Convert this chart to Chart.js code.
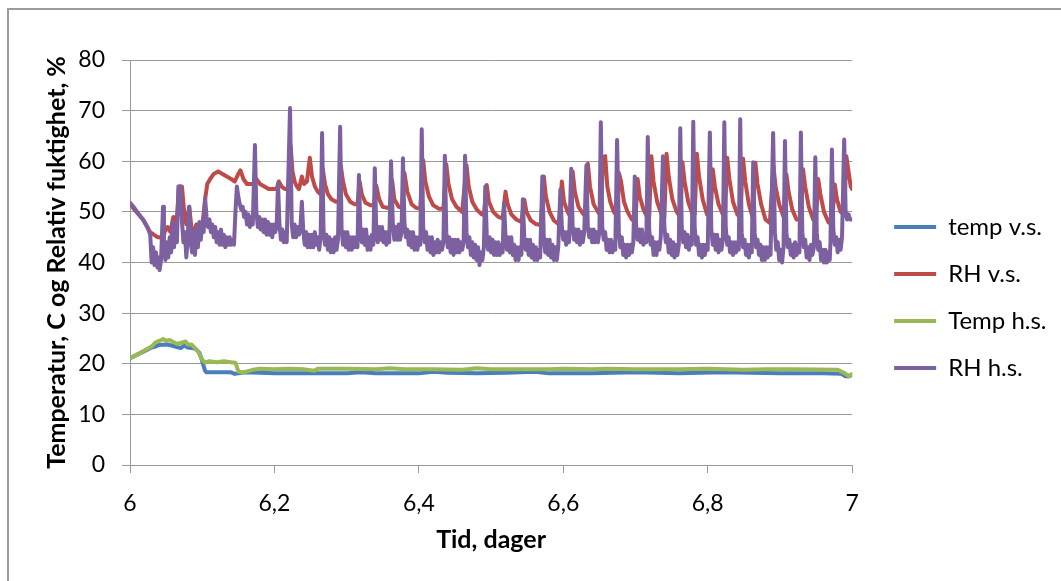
<!DOCTYPE html>
<html>
<head>
<meta charset="utf-8">
<script src="https://cdn.jsdelivr.net/npm/chart.js@4.4.1/dist/chart.umd.min.js"></script>
<style>
  html, body { margin: 0; padding: 0; background: #fff; }
  #wrap { position: relative; width: 1061px; height: 581px; overflow: hidden; }
  #frame { position: absolute; left: 7px; top: 8px; width: 1100px; height: 600px;
           border-left: 2px solid #9c9c9c; border-top: 2px solid #9c9c9c; pointer-events: none; }
  canvas { position: absolute; left: 0; top: 0; }
</style>
</head>
<body>
<div id="wrap">
  <canvas id="myChart" width="1061" height="581"></canvas>
  <div id="frame"></div>
</div>
<script>
// tick labels
const xTicks = [6, 6.2, 6.4, 6.6, 6.8, 7];
const yTicks = [0, 10, 20, 30, 40, 50, 60, 70, 80];

const seriesNames = ['temp v.s.', 'RH v.s.', 'Temp h.s.', 'RH h.s.'];

// [tid (dager), verdi]
const tempVs = [
  [6.000, 21.1], [6.010, 21.8], [6.020, 22.5], [6.030, 23.2], [6.035, 23.4], [6.040, 23.7],
  [6.050, 23.8], [6.055, 23.7], [6.060, 23.5], [6.070, 23.1], [6.075, 23.6], [6.080, 23.2],
  [6.090, 23.0], [6.096, 22.2], [6.100, 20.5], [6.104, 18.6], [6.106, 18.3], [6.140, 18.3],
  [6.145, 18.0], [6.150, 18.1], [6.160, 18.3], [6.180, 18.2], [6.200, 18.1], [6.300, 18.1],
  [6.320, 18.3], [6.340, 18.1], [6.400, 18.1], [6.420, 18.4], [6.440, 18.2], [6.480, 18.1],
  [6.520, 18.2], [6.560, 18.4], [6.580, 18.1], [6.640, 18.1], [6.700, 18.3], [6.760, 18.1],
  [6.820, 18.3], [6.900, 18.1], [6.960, 18.1], [6.985, 18.0], [6.990, 17.6], [6.995, 17.5],
  [7.000, 17.8]
];

const tempHs = [
  [6.000, 21.1], [6.010, 21.8], [6.020, 22.6], [6.030, 23.4], [6.035, 24.2], [6.042, 24.6],
  [6.046, 24.9], [6.050, 24.5], [6.055, 24.7], [6.060, 24.3], [6.066, 23.9], [6.070, 24.1],
  [6.077, 24.4], [6.080, 23.8], [6.085, 23.8], [6.090, 23.1], [6.095, 22.2], [6.100, 20.8],
  [6.104, 20.2], [6.110, 20.5], [6.120, 20.3], [6.130, 20.5], [6.140, 20.3], [6.146, 20.2],
  [6.150, 18.5], [6.155, 18.3], [6.160, 18.4], [6.170, 18.8], [6.180, 19.0], [6.200, 18.9],
  [6.220, 19.0], [6.240, 18.9], [6.255, 18.6], [6.260, 19.0], [6.300, 19.0], [6.340, 18.9],
  [6.360, 19.1], [6.380, 18.9], [6.420, 18.9], [6.460, 18.8], [6.480, 19.1], [6.500, 18.9],
  [6.540, 18.9], [6.580, 18.9], [6.600, 19.0], [6.640, 18.9], [6.660, 19.0], [6.700, 18.9],
  [6.760, 18.9], [6.800, 19.0], [6.850, 18.8], [6.880, 18.9], [6.920, 18.9], [6.980, 18.8],
  [6.990, 18.1], [6.995, 17.6], [7.000, 18.0]
];

const rhVs = [
  [6.000, 51.5], [6.006, 50.5], [6.012, 49.5], [6.018, 48.5], [6.024, 47], [6.028, 46],
  [6.033, 45.5], [6.038, 45], [6.042, 45], [6.045, 44.5], [6.048, 46], [6.052, 47],
  [6.056, 46], [6.060, 49], [6.064, 47], [6.068, 55], [6.072, 55], [6.075, 50],
  [6.078, 47.5], [6.082, 51], [6.085, 47], [6.088, 46], [6.092, 47.5], [6.096, 46.5],
  [6.100, 47], [6.104, 52.5], [6.107, 55.5], [6.111, 56.5], [6.116, 57.5], [6.122, 58],
  [6.128, 57.5], [6.134, 57], [6.140, 56.5], [6.145, 56], [6.150, 57.5], [6.153, 58.2],
  [6.157, 56.5], [6.162, 55.5], [6.168, 55.5], [6.173, 55.5], [6.175, 56.5], [6.180, 55.5],
  [6.186, 55], [6.192, 54.5], [6.198, 54.5], [6.203, 54.5], [6.206, 56], [6.210, 55],
  [6.215, 54.5], [6.219, 54.5], [6.2225, 63], [6.225, 58], [6.228, 56], [6.231, 55],
  [6.234, 54.5], [6.238, 57], [6.241, 55.5], [6.245, 56], [6.249, 60.7], [6.252, 57],
  [6.256, 55], [6.260, 54], [6.264, 53.5], [6.267, 58.5], [6.270, 55.5], [6.274, 53.5],
  [6.279, 52.5], [6.285, 52], [6.289, 52], [6.292, 59], [6.295, 56], [6.299, 53.5],
  [6.305, 52], [6.311, 51.5], [6.315, 51.5], [6.318, 56], [6.321, 53.5], [6.326, 51.8],
  [6.333, 51.3], [6.338, 51.3], [6.341, 55.2], [6.345, 52.5], [6.350, 51], [6.356, 50.8],
  [6.360, 51], [6.363, 56.2], [6.366, 52.5], [6.372, 51], [6.377, 50.8], [6.380, 57.7],
  [6.384, 54], [6.390, 51.5], [6.396, 50.8], [6.402, 50.6], [6.406, 60.2], [6.409, 56],
  [6.414, 53], [6.420, 51.3], [6.428, 50.6], [6.434, 50.6], [6.438, 59.4], [6.441, 55.5],
  [6.446, 52.5], [6.452, 51], [6.460, 50], [6.466, 59.2], [6.469, 55], [6.474, 52],
  [6.480, 50.5], [6.487, 49.5], [6.490, 49.4], [6.494, 55.3], [6.497, 52], [6.503, 50],
  [6.510, 49], [6.516, 48.7], [6.520, 54], [6.523, 51.5], [6.528, 49.5], [6.535, 48.5],
  [6.542, 48], [6.546, 52.4], [6.549, 50], [6.555, 48.3], [6.562, 47.6], [6.569, 47.4],
  [6.573, 57], [6.576, 53], [6.581, 50], [6.587, 48.3], [6.594, 47.5], [6.598, 56],
  [6.601, 52], [6.606, 50], [6.610, 49], [6.613, 58], [6.616, 54], [6.621, 51],
  [6.628, 49.5], [6.632, 49.3], [6.634, 59.5], [6.637, 55], [6.642, 51.5], [6.648, 50],
  [6.652, 49.3], [6.655, 60.8], [6.658, 61], [6.661, 55], [6.665, 52], [6.670, 50],
  [6.675, 49], [6.677, 57.7], [6.680, 56], [6.684, 52], [6.689, 50], [6.695, 48.5],
  [6.700, 48.3], [6.703, 56.5], [6.706, 53], [6.711, 50.5], [6.716, 49], [6.719, 49],
  [6.722, 61], [6.725, 56], [6.730, 52], [6.736, 49.5], [6.740, 49], [6.743, 61.5],
  [6.746, 57], [6.751, 52.5], [6.757, 50], [6.762, 49], [6.765, 59.8], [6.768, 56],
  [6.773, 52], [6.779, 49.5], [6.782, 49.5], [6.785, 61.5], [6.788, 57], [6.793, 52.5],
  [6.799, 49.5], [6.804, 49], [6.807, 58.4], [6.810, 55], [6.815, 51.5], [6.821, 49.5],
  [6.824, 49.5], [6.827, 60.7], [6.830, 56.5], [6.835, 52], [6.841, 49.5], [6.845, 49],
  [6.849, 60.5], [6.852, 56], [6.857, 51.5], [6.862, 49], [6.866, 59.7], [6.869, 55.5],
  [6.874, 51.5], [6.880, 48.5], [6.886, 47.8], [6.891, 59], [6.894, 55], [6.899, 51.5],
  [6.905, 49], [6.909, 57.4], [6.912, 54], [6.917, 50.5], [6.923, 48.5], [6.929, 48.5],
  [6.932, 58.4], [6.935, 55], [6.940, 51], [6.946, 48.5], [6.950, 48], [6.953, 56.5],
  [6.956, 53.5], [6.961, 50], [6.967, 48], [6.972, 47.5], [6.976, 55.4], [6.979, 52.5],
  [6.984, 50], [6.989, 49.5], [6.992, 61], [6.995, 58], [6.998, 55], [7.000, 54.5]
];

const rhHs = [
  [6.000, 51.8], [6.006, 50.8], [6.012, 49.5], [6.018, 48.5], [6.024, 47], [6.028, 45.5],
  [6.030, 40], [6.032, 43], [6.034, 39.5], [6.036, 42], [6.038, 39], [6.040, 41],
  [6.041, 38.5], [6.043, 40.5], [6.0457, 51], [6.047, 43], [6.049, 40.5], [6.051, 44],
  [6.053, 41], [6.055, 45], [6.057, 42], [6.059, 48], [6.061, 43], [6.063, 47],
  [6.065, 44], [6.067, 55], [6.070, 55], [6.072, 48], [6.074, 44], [6.076, 46],
  [6.078, 41], [6.080, 45], [6.082, 51], [6.084, 44], [6.086, 42], [6.088, 46],
  [6.090, 41.5], [6.092, 47], [6.094, 43], [6.096, 48], [6.098, 44.5], [6.100, 48],
  [6.102, 46], [6.104, 52.7], [6.106, 49], [6.108, 47], [6.110, 48.5], [6.112, 46],
  [6.114, 47.5], [6.116, 45], [6.118, 47], [6.120, 44], [6.122, 46], [6.124, 43.5],
  [6.126, 46.5], [6.128, 43.5], [6.130, 45.5], [6.132, 43], [6.134, 45], [6.136, 43.5],
  [6.138, 45], [6.140, 43.5], [6.142, 44.5], [6.144, 43.5], [6.146, 50], [6.148, 55],
  [6.150, 53], [6.152, 51.5], [6.154, 50.5], [6.156, 51], [6.158, 49], [6.160, 50],
  [6.162, 47.5], [6.164, 49.5], [6.166, 47], [6.168, 49], [6.170, 47.5], [6.173, 63.2],
  [6.175, 50], [6.177, 47], [6.179, 49], [6.181, 46.5], [6.183, 48.5], [6.185, 46],
  [6.187, 48.5], [6.189, 45.5], [6.191, 48], [6.193, 45.5], [6.195, 47.5], [6.197, 45],
  [6.199, 47.5], [6.201, 46], [6.203, 47], [6.205, 55.5], [6.207, 47.5], [6.209, 44.5],
  [6.211, 46.5], [6.213, 44], [6.215, 46], [6.217, 44], [6.2216, 70.5], [6.224, 47.5],
  [6.226, 45], [6.228, 47.5], [6.230, 45], [6.232, 47], [6.234, 45.5], [6.236, 47],
  [6.238, 52], [6.240, 46], [6.242, 43.5], [6.244, 46], [6.246, 43], [6.248, 45.5],
  [6.250, 43], [6.252, 45.5], [6.254, 43], [6.256, 46], [6.258, 43.5], [6.260, 45],
  [6.262, 42.5], [6.264, 45], [6.266, 65.6], [6.268, 46.5], [6.270, 43.5], [6.272, 45.5],
  [6.274, 42.5], [6.276, 45], [6.278, 42], [6.280, 44.5], [6.282, 42], [6.284, 45],
  [6.286, 42.5], [6.288, 44.5], [6.291, 66.8], [6.293, 46.5], [6.295, 43.5], [6.297, 46],
  [6.299, 43], [6.301, 46], [6.303, 42.5], [6.305, 45], [6.307, 42.5], [6.309, 45],
  [6.311, 43], [6.313, 45], [6.315, 43], [6.317, 57.3], [6.319, 46.5], [6.321, 44],
  [6.323, 46.5], [6.325, 43.5], [6.327, 46.5], [6.329, 42.5], [6.331, 45], [6.333, 42.5],
  [6.335, 45.5], [6.337, 43.5], [6.339, 58.6], [6.341, 46.5], [6.343, 44], [6.345, 47],
  [6.347, 44.5], [6.349, 47], [6.351, 44], [6.353, 46], [6.355, 43.5], [6.357, 46],
  [6.359, 44], [6.3615, 60], [6.364, 47.5], [6.366, 44.5], [6.368, 47], [6.370, 44.5],
  [6.372, 47.5], [6.374, 44.5], [6.376, 46], [6.378, 60.6], [6.380, 48], [6.382, 45],
  [6.384, 46.5], [6.386, 43.5], [6.388, 46], [6.390, 43], [6.392, 46], [6.394, 42.5],
  [6.396, 45], [6.398, 42.5], [6.400, 45], [6.402, 43.5], [6.404, 66.3], [6.406, 47],
  [6.408, 44], [6.410, 46], [6.412, 42.5], [6.414, 45], [6.416, 42], [6.418, 45],
  [6.420, 41.5], [6.422, 44], [6.424, 42], [6.426, 44.5], [6.428, 42], [6.430, 44],
  [6.432, 42.5], [6.434, 44], [6.436, 61.1], [6.438, 46], [6.440, 43], [6.442, 45],
  [6.444, 42], [6.446, 44.5], [6.448, 41.5], [6.450, 44.5], [6.452, 42], [6.454, 44.5],
  [6.456, 42], [6.458, 44], [6.460, 42.5], [6.462, 44], [6.464, 61.1], [6.466, 46],
  [6.468, 43], [6.470, 45], [6.472, 41.5], [6.474, 44], [6.476, 41], [6.478, 43.5],
  [6.480, 40.5], [6.482, 43], [6.484, 39.5], [6.486, 42], [6.488, 40.5], [6.490, 43],
  [6.492, 55], [6.494, 45.5], [6.496, 42.5], [6.498, 45], [6.500, 42], [6.502, 44.5],
  [6.504, 41.5], [6.506, 44], [6.508, 41.5], [6.510, 44], [6.512, 41.5], [6.514, 43.5],
  [6.516, 42], [6.518, 51.8], [6.520, 45], [6.522, 42.5], [6.524, 45], [6.526, 42],
  [6.528, 45], [6.530, 41.5], [6.532, 43.5], [6.534, 40.5], [6.536, 43], [6.538, 40.5],
  [6.540, 43], [6.542, 41.5], [6.544, 52.5], [6.546, 45], [6.548, 42.5], [6.550, 44.5],
  [6.552, 41.5], [6.554, 44.5], [6.556, 41], [6.558, 43.5], [6.560, 40.5], [6.562, 43],
  [6.564, 40.5], [6.566, 42.5], [6.568, 41], [6.571, 57], [6.573, 45], [6.575, 42],
  [6.577, 44.5], [6.579, 41.5], [6.581, 44.5], [6.583, 41], [6.585, 43.5], [6.587, 40.5],
  [6.589, 43], [6.591, 40.5], [6.593, 43], [6.596, 54.4], [6.598, 47], [6.600, 44.5],
  [6.602, 46], [6.604, 43.5], [6.606, 46], [6.608, 44], [6.611, 58.5], [6.613, 47],
  [6.615, 44.5], [6.617, 46.5], [6.619, 44], [6.621, 46.5], [6.623, 43.5], [6.625, 46],
  [6.627, 44], [6.629, 46], [6.632, 59.2], [6.634, 47], [6.636, 45], [6.638, 46.5],
  [6.640, 44], [6.642, 46.5], [6.644, 44], [6.646, 46], [6.648, 44], [6.650, 46],
  [6.652, 67.7], [6.654, 47], [6.656, 44.5], [6.658, 46], [6.660, 42.5], [6.662, 44.5],
  [6.664, 42], [6.666, 44.5], [6.668, 42], [6.670, 44], [6.672, 42.5], [6.6745, 64.2],
  [6.677, 46], [6.679, 43], [6.681, 45], [6.683, 41.5], [6.685, 43.5], [6.687, 41],
  [6.689, 43.5], [6.691, 41.5], [6.693, 43.5], [6.695, 42], [6.697, 44], [6.699, 57],
  [6.701, 47], [6.703, 44.5], [6.705, 46.5], [6.707, 44], [6.709, 46.5], [6.711, 43.5],
  [6.713, 45.5], [6.715, 44], [6.717, 64.8], [6.719, 46.5], [6.721, 43.5], [6.723, 45],
  [6.725, 41.5], [6.727, 44], [6.729, 41.5], [6.731, 44], [6.733, 42.5], [6.735, 45],
  [6.738, 61], [6.740, 47], [6.742, 44], [6.744, 45.5], [6.746, 42], [6.748, 44.5],
  [6.750, 41.5], [6.752, 44], [6.754, 41], [6.756, 43.5], [6.758, 41.5], [6.760, 43.5],
  [6.762, 66.5], [6.764, 47], [6.766, 44], [6.768, 46], [6.770, 43], [6.772, 45.5],
  [6.774, 42.5], [6.776, 45], [6.778, 43.5], [6.780, 67.8], [6.782, 47], [6.784, 43.5],
  [6.786, 45], [6.788, 41.5], [6.790, 43.5], [6.792, 41], [6.794, 43.5], [6.796, 41.5],
  [6.798, 43.5], [6.800, 42.5], [6.803, 65.7], [6.805, 46.5], [6.807, 43.5], [6.809, 45.5],
  [6.811, 42.5], [6.813, 45.5], [6.815, 42], [6.817, 44.5], [6.819, 42.5], [6.821, 44.5],
  [6.823, 67.7], [6.825, 47], [6.827, 43.5], [6.829, 45], [6.831, 42], [6.833, 44],
  [6.835, 41.5], [6.837, 44], [6.839, 42], [6.841, 44], [6.843, 42.5], [6.845, 68.3],
  [6.847, 46], [6.849, 43], [6.851, 44.5], [6.853, 41.5], [6.855, 43.5], [6.857, 41],
  [6.859, 43.5], [6.861, 42], [6.863, 59.8], [6.865, 46], [6.867, 43], [6.869, 44.5],
  [6.871, 41.5], [6.873, 43.5], [6.875, 40.5], [6.877, 43], [6.879, 40.5], [6.881, 43],
  [6.883, 41], [6.885, 43], [6.887, 41.5], [6.8906, 65.6], [6.893, 46], [6.895, 42.5],
  [6.897, 44], [6.899, 40.5], [6.901, 42.5], [6.903, 40], [6.905, 43], [6.907, 64],
  [6.909, 46], [6.911, 43], [6.913, 44.5], [6.915, 41.5], [6.917, 43.5], [6.919, 41],
  [6.921, 44], [6.923, 41.5], [6.925, 43.5], [6.927, 42], [6.929, 65.7], [6.931, 46],
  [6.933, 43], [6.935, 44.5], [6.937, 41], [6.939, 43], [6.941, 40.5], [6.943, 43.5],
  [6.945, 41.5], [6.947, 43], [6.949, 60.8], [6.951, 46], [6.953, 42.5], [6.955, 44],
  [6.957, 40.5], [6.959, 42.5], [6.961, 40], [6.963, 42.5], [6.965, 40], [6.967, 42],
  [6.969, 40.5], [6.970, 44], [6.972, 62.3], [6.974, 46.5], [6.976, 43.5], [6.978, 45],
  [6.980, 42], [6.982, 44.5], [6.984, 42.5], [6.986, 45], [6.989, 64.3], [6.991, 50],
  [6.993, 48.5], [6.995, 49.5], [6.997, 48.5], [7.000, 48.5]
];

const seriesData = [tempVs, rhVs, tempHs, rhHs];
const seriesColors = ['#4a7ebb', '#be4b48', '#98b954', '#7d60a0'];
const drawOrder = [4, 3, 2, 1]; // RH h.s. on top, like Excel

Chart.defaults.font.family = 'Lato';
Chart.defaults.color = '#000';

// legend placement: items should start at x=893, plot area ends at x=852
const legendFontSize = 24;
const legendPad = 23;
const legendLine = 42;
const mctx = document.createElement('canvas').getContext('2d');
mctx.font = legendFontSize + 'px Lato';
let textW = 0;
for (let i = 0; i < seriesNames.length; i++) {
  textW = Math.max(textW, mctx.measureText(seriesNames[i]).width);
}
const legendW = legendPad + legendLine + legendFontSize / 2 + textW + 10;
const legendLeft = 893 - legendPad;
const padRight = 1061 - legendLeft - legendW + 10;

let datasets = [];
for (let i = 0; i < seriesNames.length; i++) {
  datasets.push({
    label: seriesNames[i],
    data: seriesData[i].map(p => ({x: p[0], y: p[1]})),
    borderColor: seriesColors[i],
    backgroundColor: seriesColors[i],
    borderWidth: 4,
    borderJoinStyle: 'round',
    borderCapStyle: 'round',
    pointRadius: 0,
    tension: 0,
    order: drawOrder[i]
  });
}

const ctx = document.getElementById('myChart').getContext('2d');
const myChart = new Chart(ctx, {
  type: 'line',
  data: { datasets: datasets },
  options: {
    responsive: false,
    animation: false,
    events: [],
    layout: { padding: { left: 0, top: 60, right: padRight, bottom: 46 } },
    plugins: {
      tooltip: { enabled: false },
      legend: {
        position: 'right',
        labels: {
          usePointStyle: true,
          pointStyle: 'line',
          pointStyleWidth: legendLine,
          padding: legendPad,
          font: { size: legendFontSize },
          color: '#000',
          sort: (a, b) => a.datasetIndex - b.datasetIndex
        }
      }
    },
    scales: {
      x: {
        type: 'linear',
        min: 6,
        max: 7,
        afterBuildTicks: s => { s.ticks = xTicks.map(v => ({ value: v })); },
        ticks: {
          callback: v => String(v).replace('.', ','),
          font: { size: 23 },
          color: '#000',
          padding: 17,
          maxRotation: 0,
          autoSkip: false
        },
        grid: { drawOnChartArea: false, drawTicks: true, tickLength: 8, color: '#999' },
        border: { color: '#999', width: 1 },
        title: {
          display: true,
          text: 'Tid, dager',
          font: { size: 25, weight: 'bold' },
          color: '#000',
          padding: { top: 0, bottom: -20 }
        },
        afterFit: s => { s.height = 70; }
      },
      y: {
        type: 'linear',
        min: 0,
        max: 80,
        afterBuildTicks: s => { s.ticks = yTicks.map(v => ({ value: v })); },
        ticks: { font: { size: 23 }, color: '#000', padding: 17 },
        grid: { color: '#999', tickLength: 8 },
        border: { display: true, color: '#999' },
        title: {
          display: true,
          text: 'Temperatur, C og Relativ fuktighet, %',
          font: { size: 25, weight: 'bold' },
          color: '#000',
          padding: { top: 42, bottom: 0 }
        },
        afterFit: s => { s.width = 130; }
      },
      gap: {
        type: 'linear',
        position: 'right',
        display: true,
        grid: { display: false },
        ticks: { display: false },
        border: { display: false },
        afterFit: s => { s.width = 19; }
      }
    }
  }
});
</script>
</body>
</html>
